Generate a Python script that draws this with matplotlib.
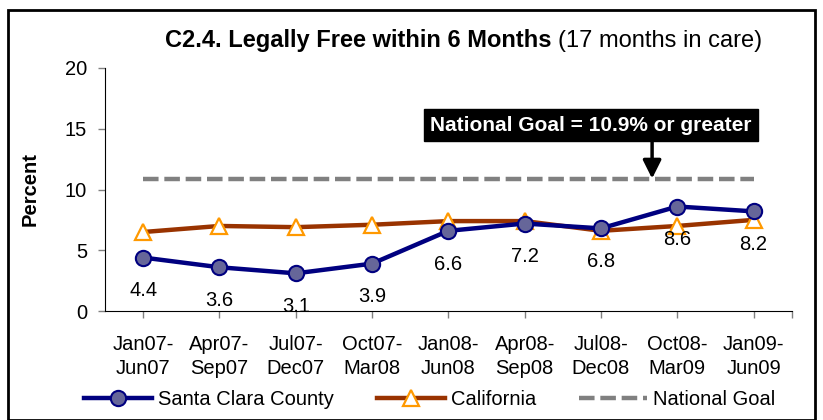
import matplotlib.pyplot as plt
from matplotlib.patches import Rectangle

plt.rcParams['font.family'] = ['Liberation Sans', 'DejaVu Sans']

# Data
periods = ['Jan07-\nJun07', 'Apr07-\nSep07', 'Jul07-\nDec07', 'Oct07-\nMar08', 'Jan08-\nJun08',
           'Apr08-\nSep08', 'Jul08-\nDec08', 'Oct08-\nMar09', 'Jan09-\nJun09']
santa_clara = [4.4, 3.6, 3.1, 3.9, 6.6, 7.2, 6.8, 8.6, 8.2]
california = [6.5, 7.0, 6.9, 7.1, 7.4, 7.4, 6.6, 7.0, 7.5]
national_goal = 10.9

x = list(range(len(periods)))

fig = plt.figure(figsize=(8.23, 4.20), dpi=100)
ax = fig.add_axes([0.1276, 0.2595, 0.8344, 0.5786])

ax.plot(x, [national_goal] * len(x), color='#808080', lw=3.2,
        linestyle=(0, (3.5, 1.3)), label='National Goal', zorder=2)
ax.plot(x, california, color='#993300', lw=3.2, marker='^', markersize=12,
        markerfacecolor='white', markeredgecolor='#FF9900', markeredgewidth=1.6,
        label='California', zorder=3)
ax.plot(x, santa_clara, color='#000080', lw=3.2, marker='o', markersize=11,
        markerfacecolor='#666699', markeredgecolor='#000080', markeredgewidth=1.5,
        label='Santa Clara County', zorder=4)

# Data labels under Santa Clara points
for xi, v in zip(x, santa_clara):
    ax.annotate(f'{v:.1f}', (xi, v), xytext=(0, -24), textcoords='offset points',
                ha='center', va='center', fontsize=14.5)

# National goal callout: black box plus a vertical arrow down to the goal line
ax.text(5.87, 15.3, 'National Goal = 10.9% or greater', ha='center', va='center',
        fontsize=15, fontweight='bold', color='white', zorder=6,
        bbox=dict(boxstyle='square,pad=0.3', facecolor='black', edgecolor='black'))
ax.annotate('', xy=(6.67, national_goal), xytext=(6.67, 14.2),
            arrowprops=dict(arrowstyle='-|>,head_width=0.55,head_length=1.1', color='black',
                            lw=2.5, shrinkA=0, shrinkB=0), zorder=6)

ax.set_xlim(-0.5, 8.5)
ax.set_ylim(0, 20)
ax.set_yticks([0, 5, 10, 15, 20])
ax.set_xticks(x)
ax.set_xticks([8.5], minor=True)
ax.set_xticklabels(periods, fontsize=14.5, linespacing=1.35)
ax.tick_params(axis='y', labelsize=14.5, direction='out', length=5, width=1, color='#808080', pad=8)
ax.tick_params(axis='x', direction='out', length=5, width=1, color='#808080', pad=12)
ax.tick_params(axis='x', which='minor', direction='out', length=5, width=1, color='#808080')
ax.spines['top'].set_visible(False)
ax.spines['right'].set_visible(False)
ax.set_ylabel('Percent', fontsize=14.5, fontweight='bold', labelpad=18)

# Title: bold part followed by normal part
t1 = fig.text(0.200, 0.903, 'C2.4. Legally Free within 6 Months', fontsize=17, fontweight='bold',
              ha='left', va='center')
fig.canvas.draw()
bb = t1.get_window_extent()
x_end = fig.transFigure.inverted().transform((bb.x1, bb.y0))[0]
fig.text(x_end + 0.008, 0.903, '(17 months in care)', fontsize=17, ha='left', va='center')

handles, labels = ax.get_legend_handles_labels()
order = [2, 1, 0]
fig.legend([handles[i] for i in order], [labels[i] for i in order], loc='center',
           bbox_to_anchor=(0.522, 0.048), ncol=3, frameon=False, fontsize=14.5,
           handlelength=3.4, columnspacing=2.1, handletextpad=0.3)

# Outer chart border
fig.patches.append(Rectangle((0.01, 0.0), 0.98, 0.976, transform=fig.transFigure,
                             fill=False, edgecolor='black', lw=2.0))

fig.savefig('out.png', dpi=100)
